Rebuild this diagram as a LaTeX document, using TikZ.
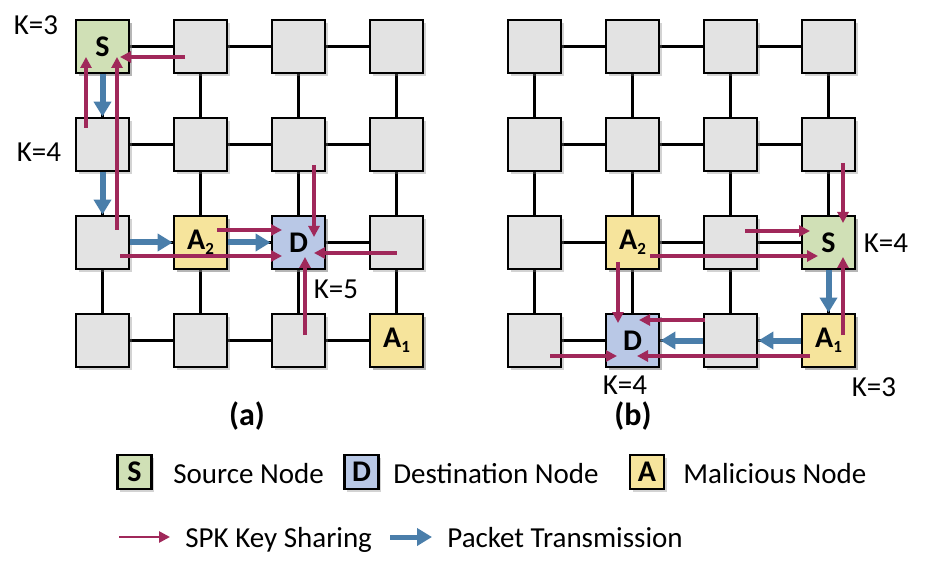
\documentclass[tikz,border=0pt]{standalone}
\usepackage{fontspec}
\setmainfont{Carlito}
\usetikzlibrary{arrows.meta,shadows,calc,backgrounds}

\definecolor{cellgray}{RGB}{227,227,227}
\definecolor{srcgreen}{RGB}{208,224,182}
\definecolor{dstblue}{RGB}{185,200,230}
\definecolor{malyellow}{RGB}{246,228,156}
\definecolor{keyred}{RGB}{160,40,90}
\definecolor{pktblue}{RGB}{74,126,170}

\newcommand{\subidx}[1]{\raisebox{-2.5pt}{\fontsize{8.5}{9}\selectfont #1}}

\tikzset{
    cell/.style={draw=black, line width=1.4pt, fill=cellgray, minimum size=26.5pt, inner sep=0pt,
        drop shadow={shadow xshift=1.3pt, shadow yshift=-1.3pt, opacity=0.35},
        font=\bfseries\fontsize{15}{17}\selectfont},
    srcnode/.style={cell, fill=srcgreen},
    dstnode/.style={cell, fill=dstblue},
    malnode/.style={cell, fill=malyellow},
    legbox/.style={minimum size=17pt},
    link/.style={line width=1.5pt},
    keyarrow/.style={draw=keyred, line width=2pt, -{Triangle[length=5.5pt,width=5.5pt]}},
    pktarrow/.style={draw=pktblue, line width=3pt, -{Triangle[length=7.5pt,width=8.5pt]}},
    klabel/.style={inner sep=0pt, font=\fontsize{14.5}{17}\selectfont},
    panel/.style={inner sep=0pt, font=\bfseries\fontsize{16}{18}\selectfont},
}

\begin{document}
\begin{tikzpicture}[x=0.5pt, y=-0.5pt]
    \useasboundingbox (0,0) rectangle (926,561);

    \foreach \r in {1,...,4}{
        \foreach \c in {1,...,4}{
            \node[cell] (a\r\c) at ({102.5+98*(\c-1)},{46.5+98*(\r-1)}) {};
            \node[cell] (b\r\c) at ({534.5+98*(\c-1)},{46.5+98*(\r-1)}) {};
        }
    }

    \node[srcnode] (a11) at (a11) {S};
    \node[malnode] (a32) at (a32) {A\subidx{2}};
    \node[dstnode] (a33) at (a33) {D};
    \node[malnode] (a44) at (a44) {A\subidx{1}};

    \node[malnode] (b32) at (b32) {A\subidx{2}};
    \node[srcnode] (b34) at (b34) {S};
    \node[dstnode] (b42) at (b42) {D};
    \node[malnode] (b44) at (b44) {A\subidx{1}};

    \begin{scope}[on background layer]
        \foreach \p in {a,b}{
            \foreach \r in {1,...,4}{
                \foreach \c/\n in {1/2,2/3,3/4}{
                    \draw[link] (\p\r\c) -- (\p\r\n);
                    \draw[link] (\p\c\r) -- (\p\n\r);
                }
            }
        }
    \end{scope}

    \draw[pktarrow] (a11) -- (a21);
    \draw[pktarrow] (a21) -- (a31);
    \draw[pktarrow] (a31) -- (a32);
    \draw[pktarrow] (a32) -- (a33);

    \draw[keyarrow] ($(a12)+(-15.5,10.5)$) -- ($(a11)+(17.5,10.5)$);
    \draw[keyarrow] ($(a21)+(-16.5,-16.5)$) -- ($(a11)+(-16.5,10.5)$);
    \draw[keyarrow] ($(a31)+(14.5,-12.5)$) -- ($(a11)+(14.5,10.5)$);
    \draw[keyarrow] ($(a31)+(17.5,13.5)$) -- ($(a33)+(-16.5,13.5)$);
    \draw[keyarrow] ($(a32)+(16.5,-12.5)$) -- ($(a33)+(-16.5,-12.5)$);
    \draw[keyarrow] ($(a23)+(15.5,20.5)$) -- ($(a33)+(15.5,-5.5)$);
    \draw[keyarrow] ($(a34)+(0,10.5)$) -- ($(a33)+(15.5,10.5)$);
    \draw[keyarrow] ($(a43)+(6.5,-5.5)$) -- ($(a33)+(6.5,14.5)$);

    \draw[pktarrow] (b34) -- (b44);
    \draw[pktarrow] (b44) -- (b43);
    \draw[pktarrow] (b43) -- (b42);

    \draw[keyarrow] ($(b24)+(14.5,18.5)$) -- ($(b34)+(14.5,-19.5)$);
    \draw[keyarrow] ($(b33)+(14.5,-11.5)$) -- ($(b34)+(-18.5,-11.5)$);
    \draw[keyarrow] ($(b32)+(17.5,13.5)$) -- ($(b34)+(-10.5,13.5)$);
    \draw[keyarrow] ($(b44)+(14.5,-5.5)$) -- ($(b34)+(14.5,14.5)$);
    \draw[keyarrow] ($(b32)+(-14.5,19.5)$) -- ($(b42)+(-14.5,-17.5)$);
    \draw[keyarrow] ($(b43)+(-25.5,-20.5)$) -- ($(b42)+(6.5,-20.5)$);
    \draw[keyarrow] ($(b44)+(-18.5,15.5)$) -- ($(b42)+(4.5,15.5)$);
    \draw[keyarrow] ($(b41)+(15.5,15.5)$) -- ($(b42)+(-15.5,15.5)$);

    \node[klabel] (ka11) at (36,25) {K=3};
    \node[klabel] (ka21) at (39,152) {K=4};
    \node[klabel] (ka33) at (336,289) {K=5};
    \node[klabel] (kb34) at (886,243) {K=4};
    \node[klabel] (kb44) at (874,387) {K=3};
    \node[klabel] (kb42) at (625,385) {K=4};

    \node[panel] (capa) at (247,416) {(a)};
    \node[panel] (capb) at (633,416) {(b)};

    \node[srcnode, legbox] (legS) at (134.5,472) {S};
    \node[klabel, anchor=base west] (legStxt) at (173,483) {Source Node};
    \node[dstnode, legbox] (legD) at (361.5,472) {D};
    \node[klabel, anchor=base west] (legDtxt) at (393,483) {Destination Node};
    \node[malnode, legbox] (legA) at (647,472) {A};
    \node[klabel, anchor=base west] (legAtxt) at (683,483) {Malicious Node};

    \coordinate (legK1) at (119,537);
    \coordinate (legK2) at (170,537);
    \draw[keyarrow, line width=1.3pt] (legK1) -- (legK2);
    \node[klabel, anchor=base west] (legKtxt) at (185,547) {SPK Key Sharing};
    \coordinate (legP1) at (390,537);
    \coordinate (legP2) at (432,537);
    \draw[pktarrow, line width=2.5pt] (legP1) -- (legP2);
    \node[klabel, anchor=base west] (legPtxt) at (447,547) {Packet Transmission};
\end{tikzpicture}
\end{document}
